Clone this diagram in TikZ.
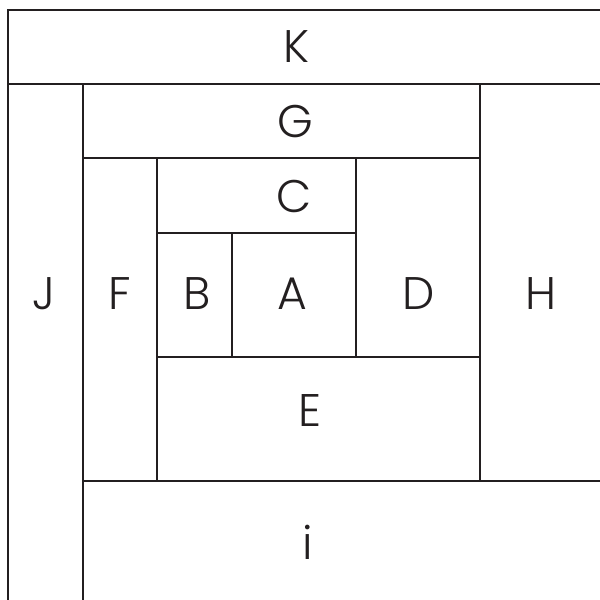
\documentclass[tikz,border=0pt]{standalone}
\usepackage{fontspec}
\setmainfont{Poppins Light}
\definecolor{ink}{HTML}{231F20}
\begin{document}
\begin{tikzpicture}[x=0.02cm,y=-0.02cm,
  wall/.style={draw=ink,line width=1.4pt,line cap=rect},
  lbl/.style={text=ink,anchor=base,inner sep=0pt,font=\fontsize{26}{30}\selectfont}]
\useasboundingbox (0,0) rectangle (600,600);
% outer lines
\draw[wall] (600,10) -- (8,10) -- (8,600);
\draw[wall] (8,84) -- (600,84);
\draw[wall] (83,84) -- (83,600);
\draw[wall] (83,158) -- (480,158);
\draw[wall] (480,84) -- (480,481);
\draw[wall] (83,481) -- (600,481);
\draw[wall] (157,158) -- (157,481);
\draw[wall] (157,233) -- (356,233);
\draw[wall] (356,158) -- (356,357);
\draw[wall] (157,357) -- (480,357);
\draw[wall] (232,233) -- (232,357);
% labels
\node[lbl] (K) at (296,62) {K};
\node[lbl] (G) at (295,137) {G};
\node[lbl] (C) at (294,212) {C};
\node[lbl] (B) at (197,309) {B};
\node[lbl] (A) at (292,309) {A};
\node[lbl] (D) at (419,309) {D};
\node[lbl] (H) at (541,309) {H};
\node[lbl] (J) at (44,309) {J};
\node[lbl] (F) at (120,309) {F};
\node[lbl] (E) at (310,426) {E};
\node[lbl] (i) at (308,559) {i};
\end{tikzpicture}
\end{document}
